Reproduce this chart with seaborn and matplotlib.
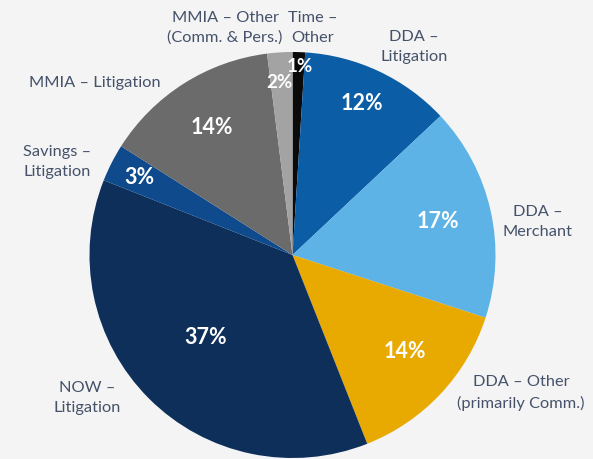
import numpy as np
import seaborn as sns
import matplotlib.pyplot as plt

# data, clockwise from 12 o'clock
categories = [
    "Time –\nOther",
    "DDA –\nLitigation",
    "DDA –\nMerchant",
    "DDA – Other\n(primarily Comm.)",
    "NOW –\nLitigation",
    "Savings –\nLitigation",
    "MMIA – Litigation",
    "MMIA – Other\n(Comm. & Pers.)",
]
shares = [1, 12, 17, 14, 37, 3, 14, 2]
colors = ["#0a0a0a", "#0b5ea6", "#5db3e6", "#e8a900",
          "#0d2f5a", "#0e4a8c", "#6b6b6b", "#a3a3a3"]

# where the texts sit (pixels, from top-left)
cat_pos = [(313, 28), (414, 47), (538, 222), (521, 393),
           (87, 398), (57, 162), (95, 83), (225, 28)]
pct_pos = [(300, 66), (362, 104), (438, 222), (405, 351),
           (206, 337), (139, 178), (212, 127), (279, 83)]

W, H = 593, 459
BG = "#f4f4f4"
TEXT = "#45526a"

sns.set_style("white")
plt.rcParams["font.family"] = ["Lato", "DejaVu Sans"]

fig = plt.figure(figsize=(W / 100, H / 100), dpi=100, facecolor=BG)
ax = fig.add_axes([0, 0, 1, 1])
ax.set_facecolor(BG)

ax.pie(
    shares,
    colors=colors,
    startangle=90,
    counterclock=False,
    center=(292.5, H - 255),
    radius=203,
    wedgeprops=dict(linewidth=0),
    frame=True,
)

for label, (x, y) in zip(categories, cat_pos):
    ax.text(x, H - y, label, ha="center", va="center", fontsize=11.8,
            color=TEXT, linespacing=1.5)

for val, (x, y) in zip(shares, pct_pos):
    # the thin slices get a smaller label
    size = 13.5 if val <= 2 else 15.5
    ax.text(x, H - y, f"{val}%", ha="center", va="center", fontsize=size,
            fontweight="bold", color="white")

ax.set_xlim(0, W)
ax.set_ylim(0, H)
ax.set_aspect("equal")
ax.axis("off")

fig.savefig("out.png", dpi=100, facecolor=BG)
